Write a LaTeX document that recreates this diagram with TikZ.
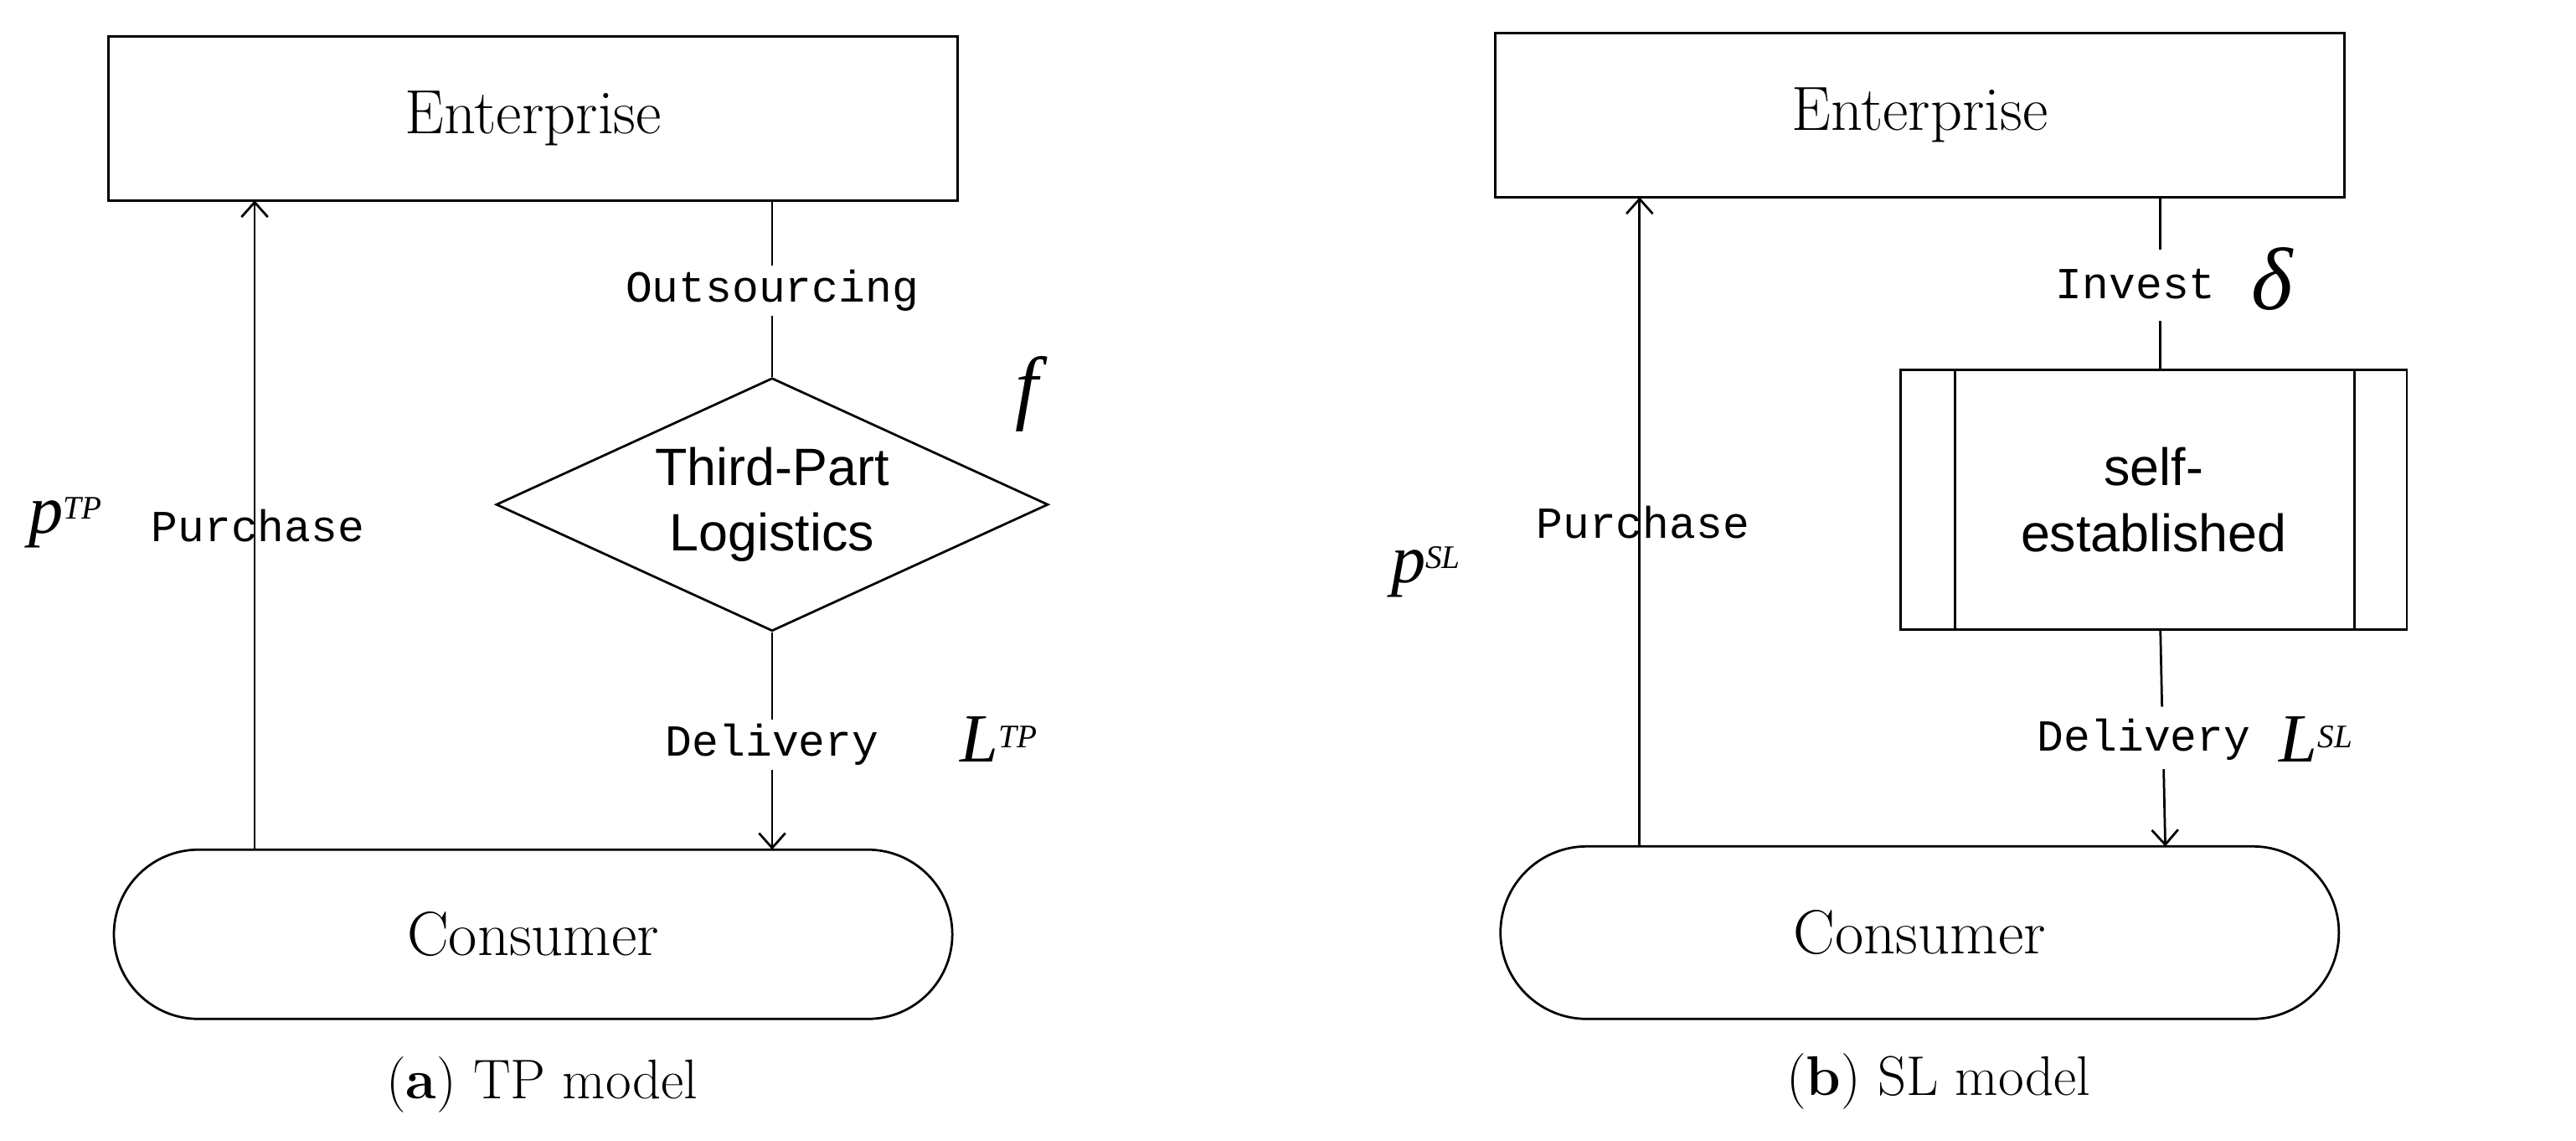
\documentclass[tikz,border=0pt]{standalone}
\usepackage{fontspec}
\newfontfamily\sans{Liberation Sans}
\newfontfamily\mono{Liberation Mono}
\newfontfamily\tms{Liberation Serif}
\usetikzlibrary{shapes.geometric,shapes.misc,arrows.meta}
\begin{document}
\begin{tikzpicture}[x=1pt,y=-1pt,line width=1.4pt,
 lab/.style={font=\mono\fontsize{27}{30}\selectfont,inner sep=2pt},
 big/.style={font=\fontsize{38}{44}\selectfont},
 math/.style={font=\tms\itshape\fontsize{42}{48}\selectfont},
 arr/.style={-{Straight Barb[length=9pt,width=16pt]}}]
\useasboundingbox (0,0) rectangle (1568,694);
% ---------- left ----------
\node[draw,minimum width=517,minimum height=100,big] (e1) at (324.5,72) {Enterprise};
\node[draw,rounded rectangle,minimum width=517,minimum height=103,big] (c1) at (324.5,568.5) {Consumer};
\node[draw,diamond,aspect=2.18,minimum width=336,minimum height=154,inner sep=0pt,align=center,font=\sans\fontsize{32}{40}\selectfont] (d1) at (470,307) {Third-Part\\Logistics};
\coordinate (u1) at (155,517);
\draw[arr] (u1) -- (155,122);
\node[lab] (o1) at (470,177) {Outsourcing};
\draw (470,122) -- (o1.north);
\draw (o1.south) -- (d1.north);
\node[lab] (dl1) at (470,453) {Delivery};
\draw (d1.south) -- (dl1.north);
\draw[arr] (dl1.south) -- (470,517);
\node[math,font=\tms\itshape\fontsize{50}{56}\selectfont] (f1) at (625,240) {f};
\node[math] (l1) at (608,450) {L\textsuperscript{\fontsize{20}{22}\selectfont TP}};
\node[math] (p1) at (40,318) {p\textsuperscript{\fontsize{20}{22}\selectfont TP}};
\node[lab] (pu1) at (157,320) {Purchase};
\node[font=\fontsize{34}{40}\selectfont] (cap1) at (330,660) {(\textbf{a}) TP model};
% ---------- right ----------
\node[draw,minimum width=517,minimum height=100,big] (e2) at (1168.5,70) {Enterprise};
\node[draw,rounded rectangle,minimum width=517,minimum height=105,big] (c2) at (1168.5,567.5) {Consumer};
\node[draw,minimum width=308,minimum height=158,align=center,font=\sans\fontsize{32}{40}\selectfont] (s2) at (1311,304) {self-\\established};
\draw (1190,225) -- (1190,383) (1433,225) -- (1433,383);
\draw[arr] (998,515) -- (998,120);
\node[lab] (i2) at (1300,173) {Invest};
\node[math,font=\tms\itshape\fontsize{54}{60}\selectfont] (dd2) at (1383,170) {δ};
\draw (1315,120) -- (1315,152);
\draw (1315,195) -- (1315,225);
\node[lab] (dl2) at (1305,450) {Delivery};
\draw (1315,383) -- (1316,430);
\draw[arr] (1317,468) -- (1318,515);
\node[math] (l2) at (1410,450) {L\textsuperscript{\fontsize{20}{22}\selectfont SL}};
\node[math] (p2) at (868,348) {p\textsuperscript{\fontsize{20}{22}\selectfont SL}};
\node[lab] (pu2) at (1000,318) {Purchase};
\node[font=\fontsize{34}{40}\selectfont] (cap2) at (1180,658) {(\textbf{b}) SL model};
\end{tikzpicture}
\end{document}
